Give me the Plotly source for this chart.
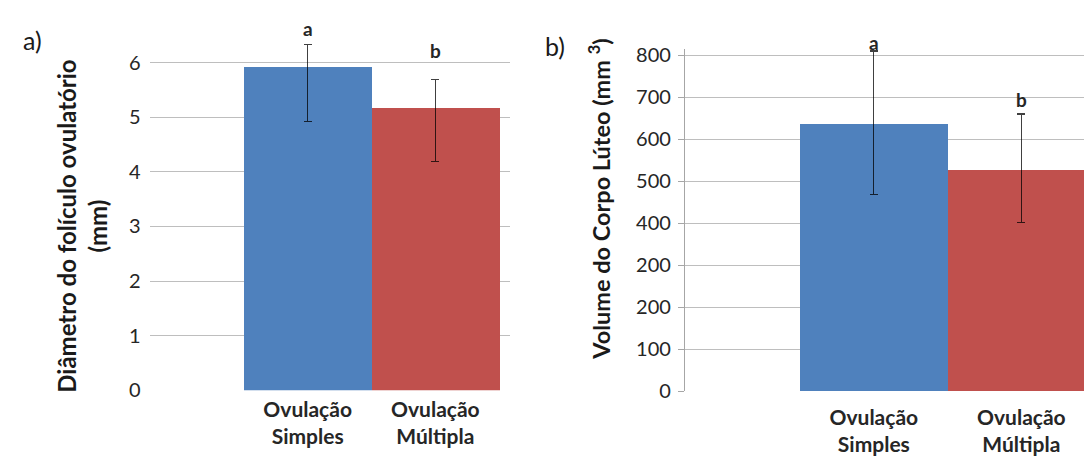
import plotly.graph_objects as go

# ---------------- data ----------------
categories = ["Ovulação<br>Simples", "Ovulação<br>Múltipla"]

diam_mean = [5.94, 5.18]
diam_err_plus = [0.40, 0.51]
diam_err_minus = [1.01, 0.99]
diam_letters = ["a", "b"]
diam_tickvals = [0, 1, 2, 3, 4, 5, 6]
diam_ticktext = ["0", "1", "2", "3", "4", "5", "6"]

vol_mean = [637, 528]
vol_err_plus = [173, 132]
vol_err_minus = [169, 126]
vol_letters = ["a", "b"]
vol_tickvals = [0, 100, 200, 300, 400, 500, 600, 700, 800]
vol_ticktext = ["0", "100", "200", "200", "400", "500", "600", "700", "800"]

bar_colors = ["#4F81BD", "#C0504D"]

# ---------------- layout helpers ----------------
W, H = 1092, 456
FONT = "Lato"


def px(x):
    return x / W


def py(y):
    return 1 - y / H


fig = go.Figure()

err_style = dict(type="data", symmetric=False, color="rgba(0,0,0,0.75)",
                 thickness=1.3, width=4)

fig.add_trace(go.Bar(
    x=categories, y=diam_mean, width=1, marker_color=bar_colors,
    marker_line_width=0, xaxis="x", yaxis="y", showlegend=False,
    error_y=dict(array=diam_err_plus, arrayminus=diam_err_minus, **err_style),
))
fig.add_trace(go.Bar(
    x=categories, y=vol_mean, width=1, marker_color=bar_colors,
    marker_line_width=0, xaxis="x2", yaxis="y2", showlegend=False,
    error_y=dict(array=vol_err_plus, arrayminus=vol_err_minus, **err_style),
))

grid = "#BEBEBE"
tickfont = dict(family=FONT, size=20, color="#262626")
catfont = dict(family=FONT, size=21, color="#262626", weight="bold")

fig.update_layout(
    width=W, height=H, margin=dict(l=0, r=0, t=0, b=0),
    paper_bgcolor="white", plot_bgcolor="white",
    bargap=0, showlegend=False,
    font=dict(family=FONT, color="#262626"),
    xaxis=dict(domain=[px(141.7), px(501.7)], type="category",
               range=[-1.237, 1.582], showgrid=False, showline=False,
               ticks="", tickfont=catfont, ticklabelstandoff=5,
               zeroline=False, fixedrange=True),
    yaxis=dict(domain=[py(390.7), py(22.4)], range=[0, 6.5],
               tickvals=diam_tickvals, ticktext=diam_ticktext,
               showgrid=True, gridcolor=grid, gridwidth=1.3,
               showline=False, zeroline=False, ticks="",
               tickfont=tickfont, ticklabelstandoff=8),
    xaxis2=dict(domain=[px(677), 1.0], type="category",
                range=[-1.280, 1.533], showgrid=False, showline=False,
                ticks="", tickfont=catfont, ticklabelstandoff=12,
                zeroline=False, anchor="y2"),
    yaxis2=dict(domain=[py(391.7), py(36.15)], range=[0, 815],
                tickvals=vol_tickvals, ticktext=vol_ticktext,
                showgrid=True, gridcolor=grid, gridwidth=1.3,
                showline=True, linecolor="#A6A6A6", linewidth=1.3,
                zeroline=False, ticks="outside", ticklen=6,
                tickcolor="#A6A6A6", tickwidth=1.3,
                tickfont=tickfont, ticklabelstandoff=3, anchor="x2"),
)

ann = []
# significance letters above the error bars
for cat, m, e, lab, shift in zip(categories, diam_mean, diam_err_plus,
                                 diam_letters, [15.7, 29.0]):
    ann.append(dict(x=cat, y=m + e, xref="x", yref="y", text=lab,
                    showarrow=False, yshift=shift, yanchor="middle",
                    font=dict(family=FONT, size=19, color="#262626",
                              weight="bold")))
for cat, m, e, lab, shift in zip(categories, vol_mean, vol_err_plus,
                                 vol_letters, [8.0, 14.0]):
    ann.append(dict(x=cat, y=m + e, xref="x2", yref="y2", text=lab,
                    showarrow=False, yshift=shift, yanchor="middle",
                    font=dict(family=FONT, size=19, color="#262626",
                              weight="bold")))

# panel letters
ann.append(dict(x=px(24), y=py(27), xref="paper", yref="paper", text="a)",
                showarrow=False, xanchor="center", yanchor="middle",
                font=dict(family=FONT, size=25, color="#1a1a1a")))
ann.append(dict(x=px(547), y=py(33), xref="paper", yref="paper", text="b)",
                showarrow=False, xanchor="center", yanchor="middle",
                font=dict(family=FONT, size=25, color="#1a1a1a")))

# axis titles
ann.append(dict(x=px(74), y=py(221), xref="paper", yref="paper",
                text="Diâmetro do folículo ovulatório<br>(mm)",
                textangle=-90, showarrow=False, xanchor="center",
                yanchor="middle",
                font=dict(family=FONT, size=24, color="#1a1a1a",
                          weight="bold")))
ann.append(dict(x=px(592), y=py(193), xref="paper", yref="paper",
                text="Volume do Corpo Lúteo (mm <sup>3</sup>)",
                textangle=-90, showarrow=False, xanchor="center",
                yanchor="middle",
                font=dict(family=FONT, size=23.5, color="#1a1a1a",
                          weight="bold")))

fig.update_layout(annotations=ann)

fig.write_html("out.html")
